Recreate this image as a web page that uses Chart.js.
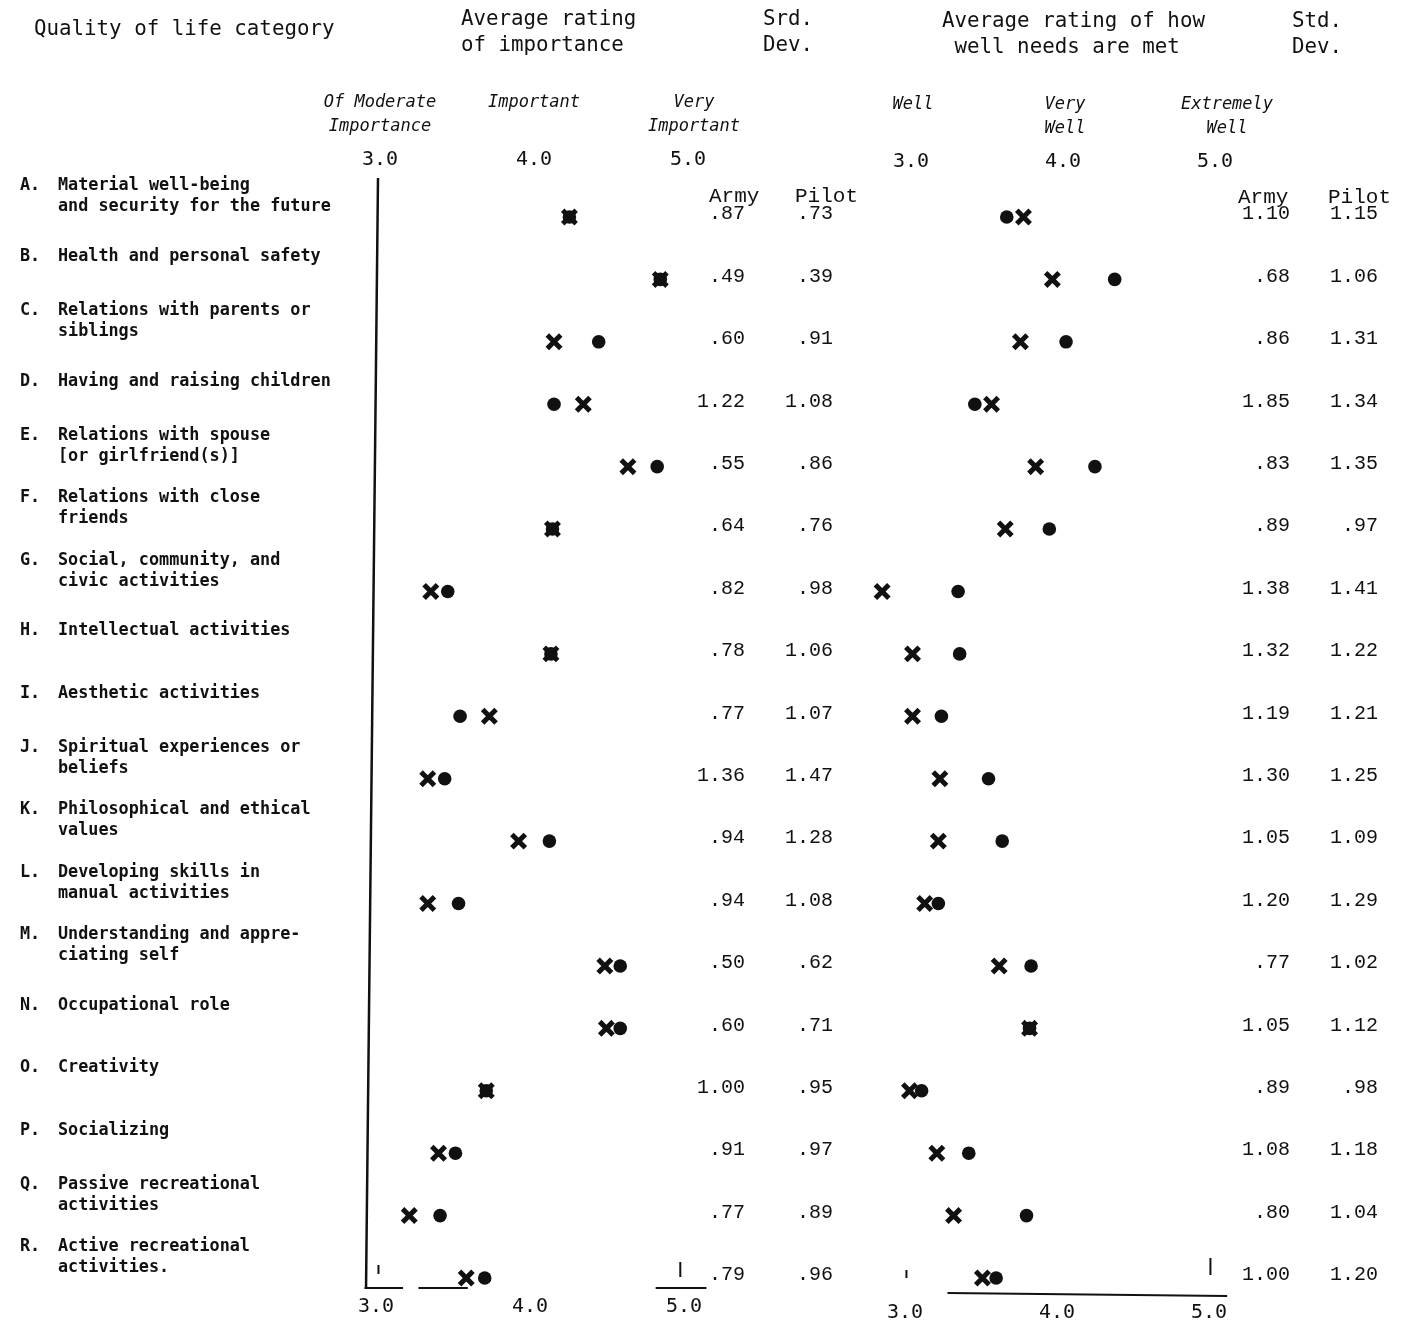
<!DOCTYPE html>
<html>
<head>
<meta charset="utf-8">
<script src="https://cdn.jsdelivr.net/npm/chart.js@4.4.1/dist/chart.umd.min.js"></script>
<style>
  body { margin: 0; background: #fff; }
  #page { position: relative; width: 1404px; height: 1325px; background: #fff; overflow: hidden; }
  #page canvas { position: absolute; left: 0; top: 0; }
  .hd { position: absolute; font-family: "DejaVu Sans Mono", monospace; font-size: 20.8px; color: #111; line-height: 26px; white-space: pre; }
</style>
</head>
<body>
<div id="page">
  <canvas id="grafico" width="1404" height="1325"></canvas>
  <div class="hd" style="left:34px; top:15px;">Quality of life category</div>
  <div class="hd" style="left:461px; top:5px;">Average rating
of importance</div>
  <div class="hd" style="left:763px; top:5px;">Srd.
Dev.</div>
  <div class="hd" style="left:942px; top:7px;">Average rating of how
 well needs are met</div>
  <div class="hd" style="left:1292px; top:7px;">Std.
Dev.</div>
</div>
<script>
// datos (A..R)
const categorias = [
  ['A.', 'Material well-being', 'and security for the future'],
  ['B.', 'Health and personal safety'],
  ['C.', 'Relations with parents or', 'siblings'],
  ['D.', 'Having and raising children'],
  ['E.', 'Relations with spouse', '[or girlfriend(s)]'],
  ['F.', 'Relations with close', 'friends'],
  ['G.', 'Social, community, and', 'civic activities'],
  ['H.', 'Intellectual activities'],
  ['I.', 'Aesthetic activities'],
  ['J.', 'Spiritual experiences or', 'beliefs'],
  ['K.', 'Philosophical and ethical', 'values'],
  ['L.', 'Developing skills in', 'manual activities'],
  ['M.', 'Understanding and appre-', 'ciating self'],
  ['N.', 'Occupational role'],
  ['O.', 'Creativity'],
  ['P.', 'Socializing'],
  ['Q.', 'Passive recreational', 'activities'],
  ['R.', 'Active recreational', 'activities.']
]

// importancia promedio
const importanciaArmy  = [4.23, 4.82, 4.13, 4.32, 4.61, 4.12, 3.33, 4.11, 3.71, 3.31, 3.90, 3.31, 4.46, 4.47, 3.69, 3.38, 3.19, 3.56]
const importanciaPilot = [4.23, 4.82, 4.42, 4.13, 4.80, 4.12, 3.44, 4.11, 3.52, 3.42, 4.10, 3.51, 4.56, 4.56, 3.69, 3.49, 3.39, 3.68]

// que tan bien se cumplen las necesidades
const cumplidoArmy  = [3.74, 3.93, 3.72, 3.53, 3.82, 3.62, 2.81, 3.01, 3.01, 3.19, 3.18, 3.09, 3.58, 3.78, 2.99, 3.17, 3.28, 3.47]
const cumplidoPilot = [3.63, 4.34, 4.02, 3.42, 4.21, 3.91, 3.31, 3.32, 3.20, 3.51, 3.60, 3.18, 3.79, 3.78, 3.07, 3.38, 3.76, 3.56]

// desviaciones estandar
const desvImpArmy  = ['.87', '.49', '.60', '1.22', '.55', '.64', '.82', '.78', '.77', '1.36', '.94', '.94', '.50', '.60', '1.00', '.91', '.77', '.79']
const desvImpPilot = ['.73', '.39', '.91', '1.08', '.86', '.76', '.98', '1.06', '1.07', '1.47', '1.28', '1.08', '.62', '.71', '.95', '.97', '.89', '.96']
const desvCumArmy  = ['1.10', '.68', '.86', '1.85', '.83', '.89', '1.38', '1.32', '1.19', '1.30', '1.05', '1.20', '.77', '1.05', '.89', '1.08', '.80', '1.00']
const desvCumPilot = ['1.15', '1.06', '1.31', '1.34', '1.35', '.97', '1.41', '1.22', '1.21', '1.25', '1.09', '1.29', '1.02', '1.12', '.98', '1.18', '1.04', '1.20']

// marcas del eje
const ticks = [3, 4, 5]
const anclasImp = [['Of Moderate', 'Importance'], ['Important'], ['Very', 'Important']]
const anclasCum = [['Well'], ['Very', 'Well'], ['Extremely', 'Well']]

// geometria de la pagina (pixeles)
const W = 1404, H = 1325
function rango(px3, px5) {
  const unidad = (px5 - px3) / 2
  const min = 3 - px3 / unidad
  return { min: min, max: min + W / unidad }
}
const rImp = rango(380, 688)
const rCum = rango(911, 1215)
const filaPaso = (1278 - 217) / 17
const yMin = -217 / filaPaso
const yMax = yMin + H / filaPaso

const puntos = (valores) => valores.map((v, i) => ({ x: v, y: i }))

const MONO = '"DejaVu Sans Mono", monospace'
const TIPO = '"Liberation Mono", "DejaVu Sans Mono", monospace'

const textos = {
  id: 'textos',
  afterDatasetsDraw(chart) {
    const ctx = chart.ctx
    const sx = chart.scales.xImp, sc = chart.scales.xCum, sy = chart.scales.y
    ctx.save()
    ctx.fillStyle = '#111'
    ctx.strokeStyle = '#111'

    // categorias
    ctx.textBaseline = 'middle'
    ctx.textAlign = 'left'
    ctx.font = 'bold 16.8px ' + MONO
    categorias.forEach((c, i) => {
      const y = sy.getPixelForValue(i)
      const y0 = c.length > 2 ? y - 31 : y - 23
      ctx.fillText(c[0], 20, y0)
      for (let k = 1; k < c.length; k++) {
        ctx.fillText(c[k], 58, y0 + (k - 1) * 21)
      }
    })

    // desviaciones
    ctx.font = '20px ' + TIPO
    ctx.textAlign = 'right'
    for (let i = 0; i < categorias.length; i++) {
      const y = sy.getPixelForValue(i) - 3
      ctx.fillText(desvImpArmy[i], 745, y)
      ctx.fillText(desvImpPilot[i], 833, y)
      ctx.fillText(desvCumArmy[i], 1290, y)
      ctx.fillText(desvCumPilot[i], 1378, y)
    }
    ctx.textAlign = 'left'
    ctx.font = '21px ' + TIPO
    ctx.fillText('Army', 709, 196)
    ctx.fillText('Pilot', 795, 196)
    ctx.fillText('Army', 1238, 197)
    ctx.fillText('Pilot', 1328, 197)

    // etiquetas de escala arriba y abajo
    ctx.textAlign = 'center'
    ctx.font = '20px ' + MONO
    ticks.forEach(t => {
      ctx.fillText(t.toFixed(1), sx.getPixelForValue(t), 160)
      ctx.fillText(t.toFixed(1), sc.getPixelForValue(t), 162)
      ctx.fillText(t.toFixed(1), sx.getPixelForValue(t) - 4, 1307)
      ctx.fillText(t.toFixed(1), sc.getPixelForValue(t) - 6, 1313)
    })
    ctx.font = 'italic 17px ' + MONO
    anclasImp.forEach((a, k) => {
      a.forEach((linea, j) => ctx.fillText(linea, sx.getPixelForValue(ticks[k]) + (k === 2 ? 6 : 0), 103 + j * 24))
    })
    anclasCum.forEach((a, k) => {
      a.forEach((linea, j) => ctx.fillText(linea, sc.getPixelForValue(ticks[k]) + (k === 2 ? 12 : 2), 105 + j * 24))
    })

    // ejes (como en el original escaneado)
    ctx.lineWidth = 2.5
    const x3 = sx.getPixelForValue(3)
    ctx.beginPath()
    ctx.moveTo(x3 - 2, 178)
    ctx.lineTo(x3 - 14, 1289)
    ctx.stroke()
    ctx.lineWidth = 2
    const segIzq = [[2.9, 3.15], [3.25, 3.57], [4.79, 5.12]]
    segIzq.forEach(s => {
      ctx.beginPath()
      ctx.moveTo(sx.getPixelForValue(s[0]), 1288)
      ctx.lineTo(sx.getPixelForValue(s[1]), 1288)
      ctx.stroke()
    })
    ctx.beginPath()
    ctx.moveTo(sx.getPixelForValue(4.95), 1262)
    ctx.lineTo(sx.getPixelForValue(4.95), 1277)
    ctx.moveTo(sx.getPixelForValue(2.99), 1265)
    ctx.lineTo(sx.getPixelForValue(2.99), 1274)
    ctx.stroke()
    ctx.beginPath()
    ctx.moveTo(sc.getPixelForValue(3.24), 1293)
    ctx.lineTo(sc.getPixelForValue(5.08), 1296)
    ctx.moveTo(sc.getPixelForValue(4.97), 1258)
    ctx.lineTo(sc.getPixelForValue(4.97), 1275)
    ctx.moveTo(sc.getPixelForValue(2.97), 1270)
    ctx.lineTo(sc.getPixelForValue(2.97), 1278)
    ctx.stroke()
    ctx.restore()
  }
}

const estiloArmy = { pointStyle: 'crossRot', pointRadius: 9.5, pointBorderWidth: 5, borderColor: '#111', backgroundColor: '#111', showLine: false }
const estiloPilot = { pointStyle: 'circle', pointRadius: 6.8, pointBorderWidth: 0, borderColor: '#111', backgroundColor: '#111', showLine: false }

const config = {
  type: 'scatter',
  data: {
    datasets: [
      Object.assign({ label: 'Army importancia', data: puntos(importanciaArmy), xAxisID: 'xImp' }, estiloArmy),
      Object.assign({ label: 'Pilot importancia', data: puntos(importanciaPilot), xAxisID: 'xImp' }, estiloPilot),
      Object.assign({ label: 'Army cumplido', data: puntos(cumplidoArmy), xAxisID: 'xCum' }, estiloArmy),
      Object.assign({ label: 'Pilot cumplido', data: puntos(cumplidoPilot), xAxisID: 'xCum' }, estiloPilot)
    ]
  },
  options: {
    responsive: false,
    animation: false,
    layout: { padding: 0, autoPadding: false },
    plugins: { legend: { display: false }, tooltip: { enabled: false } },
    scales: {
      xImp: { type: 'linear', axis: 'x', display: false, min: rImp.min, max: rImp.max },
      xCum: { type: 'linear', axis: 'x', display: false, min: rCum.min, max: rCum.max },
      y: { type: 'linear', display: false, reverse: true, min: yMin, max: yMax }
    }
  },
  plugins: [textos]
}

var grafico = new Chart(document.getElementById('grafico'), config)
</script>
</body>
</html>
